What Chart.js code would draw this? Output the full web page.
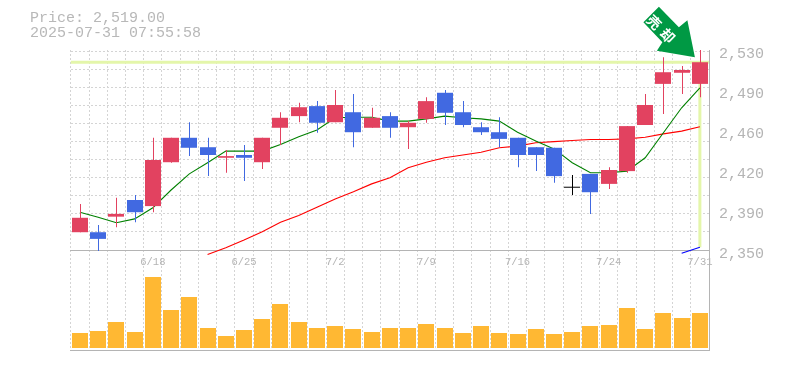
<!DOCTYPE html>
<html>
<head>
<meta charset="utf-8">
<style>
  html, body { margin: 0; padding: 0; background: #fff; }
  canvas { display: block; }
</style>
<script src="https://cdn.jsdelivr.net/npm/chart.js@4/dist/chart.umd.min.js"></script>
</head>
<body>
<canvas id="priceChart" width="785" height="370"></canvas>
<script>
const dates = ["6/12","6/13","6/16","6/17","6/18","6/19","6/20","6/23","6/24","6/25","6/26","6/27","6/30","7/1","7/2","7/3","7/4","7/7","7/8","7/9","7/10","7/11","7/14","7/15","7/16","7/17","7/18","7/22","7/23","7/24","7/25","7/28","7/29","7/30","7/31"];
const dateTicks = ["6/18","6/25","7/2","7/9","7/16","7/24","7/31"];

const opens  = [2366,2366,2380,2395,2389.5,2429,2451,2442.5,2433,2435.5,2429,2460,2470.5,2479.5,2465,2474,2460,2470.5,2460.5,2468,2491.5,2474,2460.5,2456,2451,2442.5,2442,2406.5,2418.5,2409.5,2421,2462.5,2499.5,2509.5,2499.5];
const closes = [2379,2360,2382.5,2384,2431,2451,2442,2435.5,2434.5,2433,2451,2469,2478.5,2464.5,2480.5,2456,2469,2460,2464.5,2484,2473.5,2462.5,2456,2450,2435.5,2435.5,2416.5,2406.5,2402,2422,2461.5,2480.5,2510,2512,2519];
const highs  = [2391.5,2372.5,2397,2399.5,2451,2451,2465,2451,2440,2444.5,2451,2474,2482.5,2484,2494,2490.5,2478,2474,2466,2487.5,2494,2484,2465,2469.5,2451,2442.5,2442,2417.5,2418.5,2424.5,2461.5,2490.5,2523.5,2515.5,2530];
const lows   = [2366,2349,2370.5,2375,2384,2428.5,2434.5,2416.5,2419.5,2412,2423,2444.5,2465,2455.5,2465,2442.5,2460,2451,2441,2464.5,2462.5,2460.5,2453.5,2442.5,2424.5,2421,2410.5,2399.5,2382.5,2405,2419.5,2462.5,2472.5,2490.5,2487.5];
const volumes = [15,17,26,16,71,38,51,20,12,18,29,44,26,20,22,19,16,20,20,24,20,15,22,15,14,19,14,16,22,23,40,19,35,30,35];

const shortAvg = [2384,2379.5,2374.5,2378,2388,2404,2418.5,2428.5,2439,2439,2439,2445,2452,2458,2469,2469.5,2469.5,2466,2466,2468,2470.5,2469,2468,2466,2456,2448,2441,2428.5,2419.5,2419.5,2421,2433,2455.5,2478,2496];
const longAvg = [null,null,null,null,null,null,null,2346,2352,2359,2366.5,2375,2381,2388.5,2396,2402.5,2409.5,2415,2424,2429,2433,2435.5,2438,2442,2443.5,2446.5,2447.5,2448.5,2449.5,2449.5,2450,2451.5,2454.5,2457,2461];
const trendLine = [null,null,null,null,null,null,null,null,null,null,null,null,null,null,null,null,null,null,null,null,null,null,null,null,null,null,null,null,null,null,null,null,null,2347,2352.5];

const priceTicks = [2350,2386,2422,2458,2494,2530];
const priceLabels = ["2,350","2,390","2,420","2,460","2,490","2,530"];
const gridTicks = [2366.3,2382.6,2398.8,2415.1,2431.4,2447.7,2464,2480.2,2496.5,2512.8,2529.1];

const currentPrice = 2519;
const headerLines = ["Price: 2,519.00", "2025-07-31 07:55:58"];
const arrowText = ["売", "却"];

const UP = "#e24260";
const DOWN = "#4169e1";
const FLAT = "#000000";
const MONO = '"Liberation Mono", monospace';
const GREY = "#b4b4b4";
const GRID = "#d4d4d4";

function candleColor(i) {
  if (closes[i] > opens[i]) return UP;
  if (closes[i] < opens[i]) return DOWN;
  return FLAT;
}
const candleColors = dates.map((d, i) => candleColor(i));
// a doji has no height, so give it a hair of body to stay visible
const bodies = dates.map((d, i) => opens[i] === closes[i] ? [opens[i] - 0.45, closes[i] + 0.45] : [opens[i], closes[i]]);
const wicks = dates.map((d, i) => [lows[i], highs[i]]);

const markerPlugin = {
  id: "marker",
  beforeDatasetsDraw(chart) {
    const { ctx, chartArea, scales } = chart;
    // snap bars to whole pixels so the edges and wicks stay crisp
    chart.data.datasets.forEach((ds, i) => {
      if (ds.type !== "bar") return;
      const off = ds.label === "wick" ? 0.5 : 0;
      chart.getDatasetMeta(i).data.forEach((bar, n) => {
        bar.x = Math.round(scales.x.getPixelForValue(n)) + off;
      });
    });
    // pale crosshair on the last price
    const y = scales.y.getPixelForValue(currentPrice);
    const x = scales.x.getPixelForValue(dates.length - 1);
    const yEnd = scales.y.getPixelForValue(trendLine[trendLine.length - 1]);
    ctx.save();
    ctx.strokeStyle = "#e4f6aa";
    ctx.lineWidth = 3;
    ctx.beginPath();
    ctx.moveTo(chartArea.left, y);
    ctx.lineTo(chartArea.right, y);
    ctx.moveTo(x, y);
    ctx.lineTo(x, yEnd);
    ctx.stroke();
    ctx.restore();
  },
  afterDatasetsDraw(chart) {
    const { ctx, scales } = chart;
    const x = scales.x.getPixelForValue(dates.length - 1);
    const y = scales.y.getPixelForValue(currentPrice);
    ctx.save();
    ctx.translate(x, y);
    ctx.fillStyle = "#009944";
    ctx.beginPath();
    ctx.moveTo(-41, -55.5);
    ctx.lineTo(-56.5, -40);
    ctx.lineTo(-37.5, -20);
    ctx.lineTo(-43, -11.5);
    ctx.lineTo(-5, -5);
    ctx.lineTo(-12.5, -42);
    ctx.lineTo(-21, -35);
    ctx.closePath();
    ctx.fill();
    ctx.translate(-38.5, -33);
    ctx.rotate(Math.PI / 4);
    ctx.fillStyle = "#ffffff";
    ctx.font = 'bold 14px "Noto Sans CJK JP"';
    ctx.textAlign = "center";
    ctx.textBaseline = "middle";
    ctx.fillText(arrowText[0], -10, 0);
    ctx.fillText(arrowText[1], 9, 0);
    ctx.restore();
  },
  afterDraw(chart) {
    const { ctx } = chart;
    ctx.save();
    ctx.fillStyle = "#b8b8b8";
    ctx.font = "15px " + MONO;
    ctx.textBaseline = "middle";
    ctx.fillText(headerLines[0], 30, 18);
    ctx.fillText(headerLines[1], 30, 33);
    ctx.restore();
  }
};

new Chart(document.getElementById("priceChart"), {
  data: {
    labels: dates,
    datasets: [
      { type: "bar", label: "body", data: bodies, backgroundColor: candleColors, barThickness: 16, inflateAmount: 0, grouped: false, order: 1, yAxisID: "y", clip: false },
      { type: "bar", label: "wick", data: wicks, backgroundColor: candleColors, barThickness: 1, inflateAmount: 0, grouped: false, order: 2, yAxisID: "y", clip: false },
      { type: "line", label: "short", data: shortAvg, borderColor: "#008000", borderWidth: 1.1, pointRadius: 0, order: 3, yAxisID: "y", clip: false },
      { type: "line", label: "long", data: longAvg, borderColor: "#ff0000", borderWidth: 1.1, pointRadius: 0, order: 4, yAxisID: "y", clip: false },
      { type: "line", label: "trend", data: trendLine, borderColor: "#0000ff", borderWidth: 1.1, pointRadius: 0, order: 5, yAxisID: "y", clip: false },
      { type: "bar", label: "volume", data: volumes, backgroundColor: "#ffb833", barThickness: 16, inflateAmount: 0, grouped: false, order: 6, yAxisID: "yVol" }
    ]
  },
  options: {
    responsive: false,
    animation: false,
    events: [],
    layout: { padding: { left: 70.8, right: 0, top: 50, bottom: 20 } },
    plugins: { legend: { display: false }, tooltip: { enabled: false } },
    scales: {
      x: {
        type: "category",
        offset: true,
        position: { y: 2350 },
        afterFit: s => { s.height = 0; },
        grid: { offset: true, color: GRID, drawTicks: false },
        border: { color: GREY, dash: [2, 2] },
        ticks: {
          autoSkip: false,
          maxRotation: 0,
          minRotation: 0,
          padding: 6,
          color: GREY,
          font: { family: MONO, size: 10.5 },
          callback(value) {
            const label = this.getLabelForValue(value);
            return dateTicks.includes(label) ? label : "";
          }
        }
      },
      xBase: {
        type: "category",
        position: "bottom",
        afterFit: s => { s.height = 0; },
        grid: { display: false },
        border: { color: GREY },
        ticks: { display: false }
      },
      y: {
        position: "left",
        min: 2260,
        max: 2530,
        afterFit: s => { s.width = 0; },
        afterBuildTicks: s => { s.ticks = gridTicks.map(value => ({ value })); },
        grid: { color: GRID, drawTicks: false },
        border: { display: false, dash: [2, 2] },
        ticks: { display: false }
      },
      yLabels: {
        position: "right",
        min: 2260,
        max: 2530,
        afterFit: s => { s.width = 76; },
        afterBuildTicks: s => { s.ticks = priceTicks.map(value => ({ value })); },
        grid: { display: false },
        border: { color: GREY },
        ticks: {
          padding: 2,
          labelOffset: 4,
          color: GREY,
          font: { family: MONO, size: 15 },
          callback: value => priceLabels[priceTicks.indexOf(value)]
        }
      },
      yVol: {
        display: false,
        min: -2,
        max: 298
      }
    }
  },
  plugins: [markerPlugin]
});
</script>
</body>
</html>
